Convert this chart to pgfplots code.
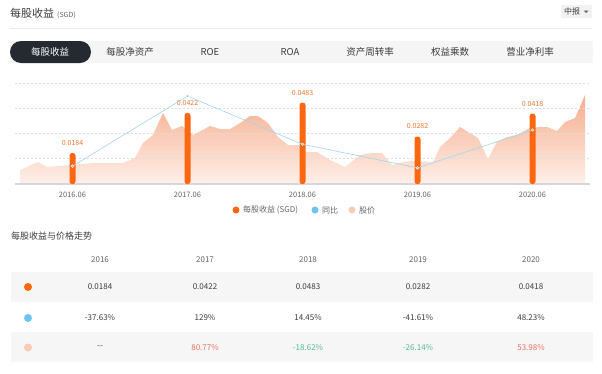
\documentclass[border=0pt]{standalone}
\usepackage{pgfplots}
\pgfplotsset{compat=1.18}
\usepackage{fontspec}
\setmainfont{Noto Sans CJK SC}
\definecolor{eps}{RGB}{255,102,16}
\definecolor{epslab}{RGB}{245,118,45}
\definecolor{yoy}{RGB}{160,214,240}
\definecolor{yoydot}{RGB}{110,195,245}
\definecolor{pricetop}{RGB}{246,172,140}
\definecolor{pricebot}{RGB}{254,240,233}
\definecolor{pricedot}{RGB}{249,203,183}
\definecolor{txt}{RGB}{60,60,60}
\definecolor{lbl}{RGB}{100,100,100}
\definecolor{tabbg}{RGB}{245,245,245}
\definecolor{btnbg}{RGB}{242,242,242}
\definecolor{sepc}{RGB}{236,236,236}
\definecolor{pill}{RGB}{37,42,50}
\definecolor{rowbg}{RGB}{246,246,246}
\definecolor{up}{RGB}{232,112,100}
\definecolor{down}{RGB}{84,184,150}
\definecolor{gridc}{RGB}{222,222,222}
\definecolor{basec}{RGB}{215,215,215}
\newcommand{\fs}[1]{\fontsize{#1}{#1}\selectfont}
\begin{document}
\begin{tikzpicture}
\useasboundingbox (0,0) rectangle (602pt,-373pt);
% ---------- page furniture ----------
\begin{scope}[x=1pt,y=-1pt]
  \node[anchor=west, text=txt, inner sep=0] at (10,14) {\fs{11}每股收益\hspace{3pt}{\fs{7}\color{lbl}(SGD)}};
  \fill[btnbg] (561,5) rectangle (592,18);
  \node[anchor=west, text=txt, inner sep=0] at (564,11.5) {\fs{8}中报};
  \fill[lbl] (583.5,10.5) -- (588.5,10.5) -- (586,13) -- cycle;
  \draw[sepc, line width=0.6pt] (10,28) -- (592,28);
  % tabs
  \fill[tabbg] (10,41) rectangle (593,63);
  \fill[pill, rounded corners=11pt] (10,41) rectangle (91,63);
  \node[text=white] at (50,52) {\fs{9.5}每股收益};
  \foreach \x/\t in {130/每股净资产,210/ROE,290/ROA,370/资产周转率,450/权益乘数,530/营业净利率}
    \node[text=txt] at (\x,52) {\fs{9.5}\t};
\end{scope}
% ---------- price area ----------
\begin{axis}[at={(15pt,-184pt)}, anchor=south west, scale only axis,
  width=575pt, height=101pt, xmin=2016, xmax=2021, ymin=0, ymax=101, hide axis]
\addplot[draw=none, top color=pricetop, bottom color=pricebot] coordinates {
(2016.043,14) (2016.200,22) (2016.278,17) (2016.478,19) (2016.678,21)
(2016.939,21) (2017.043,26) (2017.113,41) (2017.200,49) (2017.287,71)
(2017.365,54) (2017.452,58) (2017.548,49) (2017.696,58) (2017.783,55)
(2017.870,55) (2017.957,61) (2018.043,68) (2018.113,68) (2018.200,61)
(2018.287,47) (2018.374,39) (2018.461,39) (2018.522,32) (2018.626,32)
(2018.739,24) (2018.870,17) (2019.000,29) (2019.104,31) (2019.191,31)
(2019.278,19) (2019.374,22) (2019.452,23) (2019.635,22) (2019.696,37)
(2019.783,46) (2019.870,57) (2019.939,52) (2020.026,46) (2020.113,25)
(2020.191,42) (2020.278,47) (2020.365,49) (2020.478,56) (2020.565,57)
(2020.626,57) (2020.713,53) (2020.783,62) (2020.870,66) (2020.957,89)
} \closedcycle;
\end{axis}
% ---------- EPS bars, grid, x axis ----------
\begin{axis}[at={(15pt,-184pt)}, anchor=south west, scale only axis,
  width=575pt, height=101pt, xmin=2016, xmax=2021, ymin=0, ymax=0.06,
  axis x line*=bottom, axis y line*=left,
  x axis line style={basec, line width=1.3pt},
  y axis line style={draw=none},
  ytick={0.015,0.03,0.045,0.06}, yticklabels={}, scaled y ticks=false,
  ymajorgrids, grid style={gridc, line width=0.6pt, dash pattern=on 1.5pt off 2.5pt},
  major tick length=0pt,
  xtick={2016.5,2017.5,2018.5,2019.5,2020.5},
  xticklabels={2016.06,2017.06,2018.06,2019.06,2020.06},
  xticklabel style={anchor=center, yshift=-11pt, font=\fs{7.5}, text=lbl}]
\addplot[ybar, bar width=6pt, fill=eps, draw=none, rounded corners=2.5pt,
  point meta=explicit symbolic, nodes near coords,
  nodes near coords style={font=\fs{7}, text=epslab, anchor=south, yshift=4pt}]
coordinates {(2016.5,0.0184) [0.0184] (2017.5,0.0422) [0.0422] (2018.5,0.0483) [0.0483]
             (2019.5,0.0282) [0.0282] (2020.5,0.0418) [0.0418]};
\end{axis}
% ---------- YoY line ----------
\begin{axis}[at={(15pt,-184pt)}, anchor=south west, scale only axis,
  width=575pt, height=101pt, xmin=2016, xmax=2021, ymin=-80, ymax=160, hide axis]
\addplot[yoy, line width=0.6pt, mark=*, mark size=1.4pt,
  mark options={fill=gray!65, draw=white, line width=0.4pt}]
coordinates {(2016.5,-37.63) (2017.5,129) (2018.5,14.45) (2019.5,-41.61) (2020.5,48.23)};
\end{axis}
% ---------- legend and table ----------
\begin{scope}[x=1pt,y=-1pt]
  \fill[eps] (236,210) circle (3.5);
  \node[anchor=west, text=lbl, inner sep=0] at (243,210) {\fs{8}每股收益 (SGD)};
  \fill[yoydot] (315,210) circle (3.5);
  \node[anchor=west, text=lbl, inner sep=0] at (322,210) {\fs{8}同比};
  \fill[pricedot] (352,210) circle (3.5);
  \node[anchor=west, text=lbl, inner sep=0] at (359,210) {\fs{8}股价};
  % table
  \node[anchor=west, text=txt, inner sep=0] at (11,236) {\fs{9}每股收益与价格走势};
  \fill[rowbg] (11,272) rectangle (593,302);
  \fill[rowbg] (11,332) rectangle (593,362);
  \foreach \x/\t in {100/2016,205/2017,308/2018,418/2019,531/2020}
    \node[text=lbl] at (\x,260) {\fs{8}\t};
  \fill[eps] (28,287) circle (4);
  \fill[yoydot] (28,318) circle (4);
  \fill[pricedot] (28,347.5) circle (4);
  \foreach \x/\t in {100/0.0184,205/0.0422,308/0.0483,418/0.0282,531/0.0418}
    \node[text=txt] at (\x,287) {\fs{8}\t};
  \foreach \x/\t in {100/-37.63\%,205/129\%,308/14.45\%,418/-41.61\%,531/48.23\%}
    \node[text=txt] at (\x,318) {\fs{8}\t};
  \node[text=txt] at (100,347.5) {\fs{8}-{}-};
  \node[text=up] at (205,347.5) {\fs{8}80.77\%};
  \node[text=down] at (308,347.5) {\fs{8}-18.62\%};
  \node[text=down] at (418,347.5) {\fs{8}-26.14\%};
  \node[text=up] at (531,347.5) {\fs{8}53.98\%};
\end{scope}
\end{tikzpicture}
\end{document}
